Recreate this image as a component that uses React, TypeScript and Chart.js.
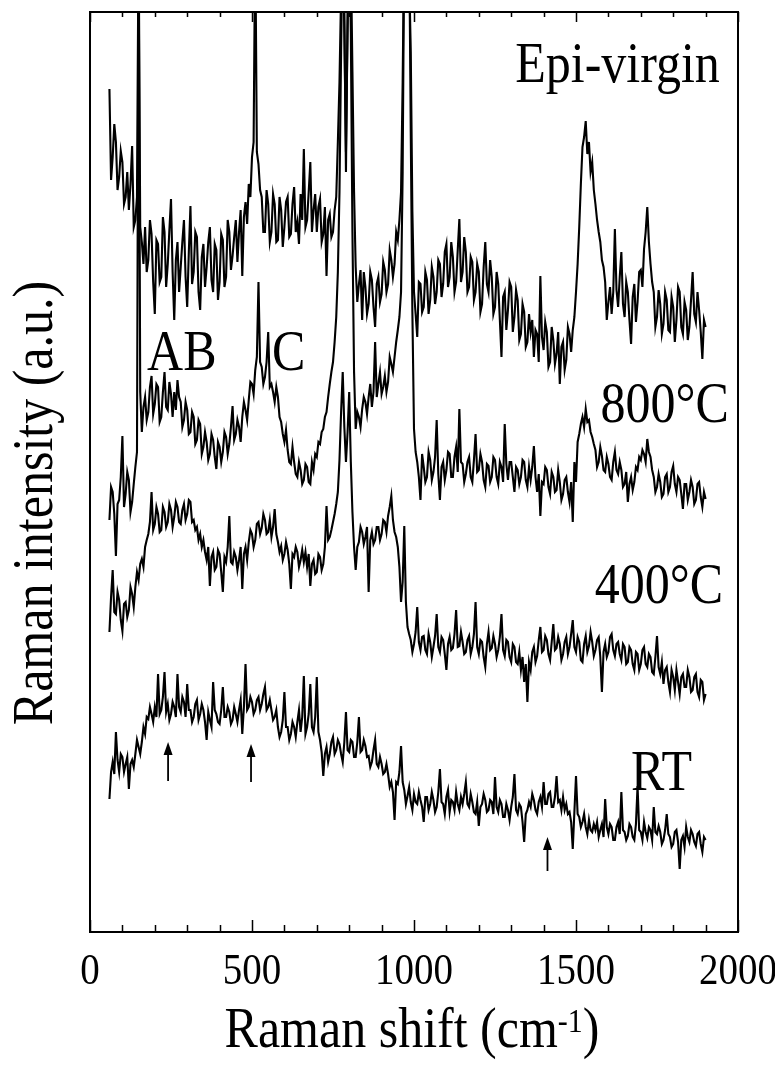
import React, { useEffect, useRef } from "react";
import { Chart, registerables } from "chart.js";

Chart.register(...registerables);

// Spectra sampled every 5 cm-1 starting at 60 cm-1 (intensity in arbitrary units)
const SHIFT_START = 60;
const SHIFT_STEP = 5;

const EPI_VIRGIN = [
  843, 752, 775, 808, 790, 742, 755, 781, 770, 728, 735, 760, 722, 748, 786, 705, 712, 735, 1000, 705,
  690, 668, 705, 660, 672, 712, 698, 650, 618, 692, 688, 650, 655, 715, 700, 645, 668, 702, 733, 660,
  612, 672, 690, 640, 665, 690, 712, 655, 625, 680, 726, 648, 660, 700, 695, 640, 622, 675, 688, 645,
  665, 690, 705, 652, 640, 688, 682, 632, 650, 698, 692, 645, 655, 712, 700, 662, 676, 695, 712, 670,
  700, 722, 656, 715, 730, 708, 748, 735, 775, 790, 1000, 780, 768, 742, 735, 700, 700, 742, 728, 690,
  700, 738, 728, 690, 692, 735, 722, 685, 705, 730, 735, 695, 698, 728, 745, 700, 710, 688, 738, 712,
  783, 705, 712, 740, 770, 700, 722, 738, 700, 725, 733, 690, 698, 725, 656, 712, 718, 695, 700, 722,
  735, 790, 850, 940, 1000, 900, 780, 900, 1000, 980, 860, 740, 665, 630, 648, 662, 612, 660, 645, 618,
  628, 660, 652, 625, 605, 648, 655, 630, 638, 670, 662, 640, 648, 682, 672, 655, 668, 700, 692, 712,
  740, 850, 1000, 1000, 1000, 960, 880, 720, 640, 618, 595, 650, 648, 620, 625, 660, 652, 618, 632, 665,
  655, 628, 640, 672, 668, 635, 648, 680, 688, 645, 655, 690, 675, 640, 650, 682, 713, 650, 660, 695,
  680, 640, 645, 675, 670, 632, 640, 668, 660, 620, 628, 665, 690, 648, 640, 672, 655, 618, 625, 660,
  648, 612, 575, 635, 640, 602, 622, 650, 645, 600, 615, 642, 632, 592, 598, 628, 620, 585, 590, 618,
  600, 612, 575, 602, 598, 570, 656, 595, 582, 610, 600, 565, 570, 605, 592, 568, 578, 600, 548, 585,
  590, 562, 572, 605, 598, 580, 602, 615, 640, 668, 705, 748, 785, 795, 811, 778, 790, 760, 770, 742,
  728, 712, 700, 690, 672, 665, 650, 612, 630, 645, 618, 640, 703, 642, 625, 655, 680, 628, 615, 650,
  640, 612, 588, 635, 648, 610, 630, 660, 662, 645, 683, 700, 725, 690, 668, 650, 640, 605, 615, 642,
  628, 598, 608, 640, 632, 602, 600, 635, 625, 590, 612, 645, 640, 605, 598, 630, 622, 592, 605, 632,
  660, 618, 610, 640, 622, 600, 573, 612, 605,
];

const ANNEAL_800 = [
  412, 445, 440, 418, 376, 428, 432, 455, 496, 425, 438, 460, 452, 420, 430, 448, 465, 480, 1000, 540,
  500, 525, 535, 512, 520, 545, 556, 518, 528, 548, 545, 510, 515, 540, 560, 525, 522, 550, 538, 515,
  540, 522, 552, 535, 530, 505, 512, 530, 522, 498, 500, 520, 515, 488, 492, 512, 508, 478, 485, 500,
  490, 472, 478, 498, 492, 475, 463, 490, 485, 470, 480, 500, 495, 478, 488, 505, 526, 492, 498, 512,
  505, 490, 515, 530, 522, 512, 532, 550, 548, 538, 562, 575, 650, 570, 565, 548, 555, 570, 600, 545,
  548, 540, 530, 545, 535, 515, 510, 498, 490, 502, 482, 470, 468, 485, 470, 458, 455, 470, 462, 448,
  452, 468, 465, 450, 448, 470, 462, 478, 475, 490, 488, 500, 503, 515, 520, 535, 548, 560, 570, 590,
  615, 660, 740, 880, 1000, 920, 760, 920, 1000, 900, 700, 560, 503, 520, 515, 505, 523, 535, 530, 518,
  535, 548, 525, 540, 590, 535, 548, 560, 538, 545, 556, 540, 550, 575, 568, 560, 575, 590, 602, 615,
  640, 760, 1000, 1000, 1000, 1000, 800, 620, 503, 480, 470, 455, 432, 478, 465, 450, 455, 480, 472, 452,
  460, 475, 512, 458, 432, 465, 470, 452, 462, 480, 478, 455, 455, 475, 485, 460, 523, 470, 468, 450,
  458, 470, 475, 455, 450, 472, 498, 460, 462, 478, 470, 452, 445, 468, 466, 450, 455, 475, 472, 455,
  448, 470, 465, 450, 508, 468, 452, 470, 470, 455, 440, 465, 462, 448, 455, 472, 470, 452, 445, 465,
  452, 465, 486, 455, 440, 458, 416, 450, 448, 465, 462, 445, 438, 460, 455, 440, 442, 462, 450, 432,
  438, 452, 455, 440, 430, 450, 410, 470, 450, 490, 498, 508, 515, 505, 523, 510, 512, 500, 495, 488,
  482, 465, 470, 485, 476, 462, 460, 475, 468, 455, 452, 470, 480, 462, 458, 470, 462, 445, 448, 460,
  430, 448, 455, 442, 450, 465, 462, 475, 472, 482, 478, 470, 493, 480, 475, 462, 455, 440, 445, 458,
  450, 435, 438, 455, 458, 440, 445, 460, 466, 448, 440, 455, 452, 438, 423, 448, 448, 432, 440, 452,
  445, 428, 432, 448, 450, 435, 425, 440, 433,
];

const ANNEAL_400 = [
  300, 335, 362, 320, 318, 340, 332, 312, 301, 328, 330, 315, 322, 345, 338, 325, 345, 360, 352, 368,
  373, 365, 385, 392, 398, 410, 440, 402, 408, 425, 418, 400, 402, 425, 420, 405, 410, 428, 422, 405,
  415, 430, 425, 410, 408, 422, 428, 412, 418, 432, 430, 410, 412, 402, 405, 392, 398, 385, 392, 380,
  372, 385, 346, 375, 380, 362, 365, 382, 378, 360, 340, 375, 370, 385, 416, 370, 368, 380, 375, 362,
  372, 385, 343, 378, 385, 372, 390, 402, 398, 385, 392, 408, 410, 398, 404, 418, 412, 398, 400, 412,
  395, 405, 423, 398, 390, 380, 386, 372, 378, 390, 382, 368, 343, 378, 375, 385, 380, 365, 372, 382,
  370, 380, 365, 378, 346, 368, 372, 358, 360, 378, 375, 362, 368, 385, 426, 392, 395, 402, 410, 418,
  428, 440, 472, 520, 560, 505, 470, 500, 540, 470, 420, 385, 362, 385, 390, 405, 400, 388, 395, 405,
  340, 392, 400, 388, 392, 405, 405, 392, 398, 412, 410, 400, 416, 425, 436, 412, 400, 395, 385, 365,
  330, 350, 406, 330, 305, 298, 292, 280, 288, 300, 325, 290, 282, 295, 296, 282, 278, 298, 290, 275,
  285, 296, 318, 285, 280, 295, 292, 278, 262, 288, 295, 282, 284, 298, 322, 285, 286, 300, 290, 278,
  280, 292, 296, 278, 285, 298, 330, 285, 278, 292, 290, 275, 265, 288, 300, 282, 284, 296, 288, 275,
  282, 295, 318, 282, 276, 292, 290, 275, 270, 288, 285, 270, 268, 280, 262, 275, 250, 268, 230, 270,
  262, 280, 285, 270, 276, 292, 305, 280, 282, 296, 292, 278, 272, 290, 308, 282, 284, 295, 288, 272,
  278, 290, 295, 278, 285, 298, 312, 285, 280, 295, 290, 272, 270, 288, 296, 280, 286, 300, 290, 276,
  282, 292, 295, 275, 240, 280, 288, 275, 280, 295, 298, 282, 276, 288, 290, 278, 272, 288, 285, 268,
  270, 285, 282, 268, 262, 280, 278, 262, 268, 282, 285, 268, 265, 278, 275, 260, 258, 275, 296, 265,
  258, 270, 248, 262, 265, 250, 240, 262, 255, 242, 262, 250, 238, 255, 258, 245, 245, 262, 255, 240,
  242, 255, 258, 240, 235, 252, 250, 232, 238,
];

const ROOM_TEMP = [
  133, 160, 170, 158, 200, 172, 160, 178, 175, 160, 168, 175, 143, 168, 172, 165, 178, 192, 185, 178,
  190, 205, 198, 215, 213, 225, 218, 210, 225, 215, 258, 218, 222, 235, 260, 220, 228, 212, 218, 230,
  225, 215, 258, 225, 220, 235, 230, 215, 248, 222, 222, 210, 215, 228, 232, 212, 218, 228, 222, 210,
  192, 220, 212, 205, 250, 222, 218, 210, 208, 222, 245, 215, 215, 225, 220, 208, 212, 225, 218, 210,
  222, 232, 198, 225, 268, 222, 225, 235, 230, 218, 222, 232, 235, 222, 228, 238, 245, 222, 225, 232,
  222, 212, 215, 222, 205, 195, 200, 212, 240, 205, 205, 192, 198, 210, 205, 195, 210, 222, 200, 215,
  256, 198, 205, 218, 248, 205, 200, 215, 255, 200, 192, 180, 156, 178, 185, 170, 178, 190, 195, 178,
  182, 192, 188, 178, 170, 190, 220, 182, 180, 192, 190, 175, 175, 190, 215, 180, 182, 192, 186, 175,
  176, 165, 170, 182, 192, 168, 165, 175, 168, 158, 160, 168, 158, 145, 150, 140, 112, 150, 148, 160,
  186, 150, 142, 128, 136, 145, 130, 122, 138, 130, 128, 140, 132, 125, 110, 135, 135, 122, 128, 140,
  132, 120, 125, 140, 163, 130, 128, 118, 135, 142, 120, 132, 130, 122, 140, 128, 122, 135, 128, 138,
  150, 128, 125, 138, 130, 120, 118, 130, 106, 125, 128, 138, 132, 120, 122, 132, 130, 118, 155, 125,
  120, 132, 128, 115, 115, 128, 122, 112, 125, 135, 158, 122, 118, 128, 125, 110, 90, 118, 122, 130,
  125, 138, 132, 122, 118, 130, 135, 125, 150, 128, 128, 138, 140, 125, 125, 135, 156, 130, 132, 122,
  135, 122, 128, 118, 120, 110, 83, 120, 156, 118, 115, 105, 110, 118, 105, 98, 112, 102, 100, 108,
  102, 110, 95, 102, 108, 95, 133, 105, 98, 108, 105, 92, 92, 105, 110, 98, 140, 102, 100, 92,
  96, 108, 105, 95, 92, 108, 146, 102, 100, 92, 110, 100, 94, 105, 102, 92, 125, 100, 98, 106,
  100, 88, 92, 102, 118, 98, 95, 85, 88, 100, 102, 90, 63, 92, 96, 85, 105, 95, 90, 102,
  98, 90, 86, 98, 100, 88, 80, 95, 92,
];

const X_MIN = 0;
const X_MAX = 2000;
const Y_MIN = 0;
const Y_MAX = 920;
const X_TICK_LABELS = [0, 500, 1000, 1500, 2000];
const X_MINOR_TICKS = [100, 200, 300, 400, 600, 700, 800, 900, 1100, 1200, 1300, 1400, 1600, 1700, 1800, 1900];

const LABEL_TEXTS = ["Epi-virgin", "800°C", "400°C", "RT", "AB", "C"];
const LABEL_SHIFTS = [1944, 1972, 1954, 1858, 176, 562];
const LABEL_LEVELS = [850, 510, 329, 142, 562, 562];
const LABEL_ALIGN = ["right", "right", "right", "right", "left", "left"];

const ARROW_SHIFTS = [241, 497, 1412];
const ARROW_TIPS = [190, 188, 95];
const ARROW_TAILS = [151, 150, 61];

const X_TITLE = "Raman shift (cm";
const X_TITLE_SUP = "-1";
const X_TITLE_END = ")";
const Y_TITLE = "Raman intensity (a.u.)";

const FONT = '"Liberation Serif", "Times New Roman", Times, serif';
const STRETCH = 1.12;

function toPoints(values: number[]) {
  return values.map((v, i) => ({ x: SHIFT_START + i * SHIFT_STEP, y: v }));
}

function drawText(ctx: CanvasRenderingContext2D, text: string, x: number, y: number, size: number, align: CanvasTextAlign) {
  ctx.save();
  ctx.translate(x, y);
  ctx.scale(1, STRETCH);
  ctx.font = `${size}px ${FONT}`;
  ctx.textAlign = align;
  ctx.textBaseline = "alphabetic";
  ctx.fillText(text, 0, 0);
  ctx.restore();
}

const decorPlugin = {
  id: "decor",
  afterDraw(chart: any) {
    const { ctx, chartArea: a, scales } = chart;
    const xs = scales.x;
    const ys = scales.y;
    ctx.save();
    ctx.strokeStyle = "#000";
    ctx.fillStyle = "#000";

    // frame
    ctx.lineWidth = 2;
    ctx.strokeRect(a.left, a.top, a.right - a.left, a.bottom - a.top);

    // inward ticks, bottom and top
    ctx.lineWidth = 1.5;
    ctx.beginPath();
    for (const v of X_MINOR_TICKS) {
      const px = Math.round(xs.getPixelForValue(v)) + 0.5;
      ctx.moveTo(px, a.bottom);
      ctx.lineTo(px, a.bottom - 7);
      ctx.moveTo(px, a.top);
      ctx.lineTo(px, a.top + 5);
    }
    for (const v of X_TICK_LABELS) {
      const px = Math.round(xs.getPixelForValue(v)) + 0.5;
      ctx.moveTo(px, a.bottom);
      ctx.lineTo(px, a.bottom - 12);
      ctx.moveTo(px, a.top);
      ctx.lineTo(px, a.top + 10);
    }
    ctx.stroke();

    // tick labels
    for (const v of X_TICK_LABELS) {
      drawText(ctx, String(v), xs.getPixelForValue(v), a.bottom + 52, 39, "center");
    }

    // x title with superscript
    const mainSize = 50;
    const supSize = 30;
    ctx.font = `${mainSize}px ${FONT}`;
    const w1 = ctx.measureText(X_TITLE).width;
    const w3 = ctx.measureText(X_TITLE_END).width;
    ctx.font = `${supSize}px ${FONT}`;
    const w2 = ctx.measureText(X_TITLE_SUP).width;
    const total = w1 + w2 + w3;
    const cx = (a.left + a.right) / 2 - 2;
    const base = a.bottom + 115;
    let sx = cx - total / 2;
    drawText(ctx, X_TITLE, sx, base, mainSize, "left");
    sx += w1;
    drawText(ctx, X_TITLE_SUP, sx, base - 15, supSize, "left");
    sx += w2;
    drawText(ctx, X_TITLE_END, sx, base, mainSize, "left");

    // y title, rotated
    ctx.save();
    ctx.translate(a.left - 38, (a.top + a.bottom) / 2 + 31);
    ctx.rotate(-Math.PI / 2);
    ctx.scale(1, STRETCH);
    ctx.font = `50px ${FONT}`;
    ctx.textAlign = "center";
    ctx.textBaseline = "alphabetic";
    ctx.fillText(Y_TITLE, 0, 0);
    ctx.restore();

    // trace labels
    for (let i = 0; i < LABEL_TEXTS.length; i++) {
      drawText(
        ctx,
        LABEL_TEXTS[i],
        xs.getPixelForValue(LABEL_SHIFTS[i]),
        ys.getPixelForValue(LABEL_LEVELS[i]),
        50,
        LABEL_ALIGN[i] as CanvasTextAlign
      );
    }

    // arrows
    for (let i = 0; i < ARROW_SHIFTS.length; i++) {
      const px = xs.getPixelForValue(ARROW_SHIFTS[i]);
      const tip = ys.getPixelForValue(ARROW_TIPS[i]);
      const tail = ys.getPixelForValue(ARROW_TAILS[i]);
      ctx.lineWidth = 1.8;
      ctx.beginPath();
      ctx.moveTo(px, tail);
      ctx.lineTo(px, tip + 8);
      ctx.stroke();
      ctx.beginPath();
      ctx.moveTo(px, tip);
      ctx.lineTo(px - 4.5, tip + 13);
      ctx.lineTo(px + 4.5, tip + 13);
      ctx.closePath();
      ctx.fill();
    }
    ctx.restore();
  },
};

export default function App() {
  const canvasRef = useRef<HTMLCanvasElement | null>(null);

  useEffect(() => {
    const canvas = canvasRef.current;
    if (!canvas) return;
    const series = [EPI_VIRGIN, ANNEAL_800, ANNEAL_400, ROOM_TEMP];
    const names = ["Epi-virgin", "800°C", "400°C", "RT"];
    const chart = new Chart(canvas, {
      type: "line",
      data: {
        datasets: series.map((s, i) => ({
          label: names[i],
          data: toPoints(s),
          borderColor: "#000",
          borderWidth: 2.1,
          borderJoinStyle: "miter",
          pointRadius: 0,
          fill: false,
          tension: 0,
        })),
      },
      options: {
        animation: false,
        responsive: false,
        maintainAspectRatio: false,
        layout: { padding: { left: 82, right: 37, top: 4, bottom: 135 } },
        plugins: { legend: { display: false }, tooltip: { enabled: false } },
        scales: {
          x: { type: "linear", min: X_MIN, max: X_MAX, display: false },
          y: { type: "linear", min: Y_MIN, max: Y_MAX, display: false },
        },
      },
      plugins: [decorPlugin],
    });
    return () => chart.destroy();
  }, []);

  return <canvas ref={canvasRef} width={767} height={1059} style={{ display: "block" }} />;
}
